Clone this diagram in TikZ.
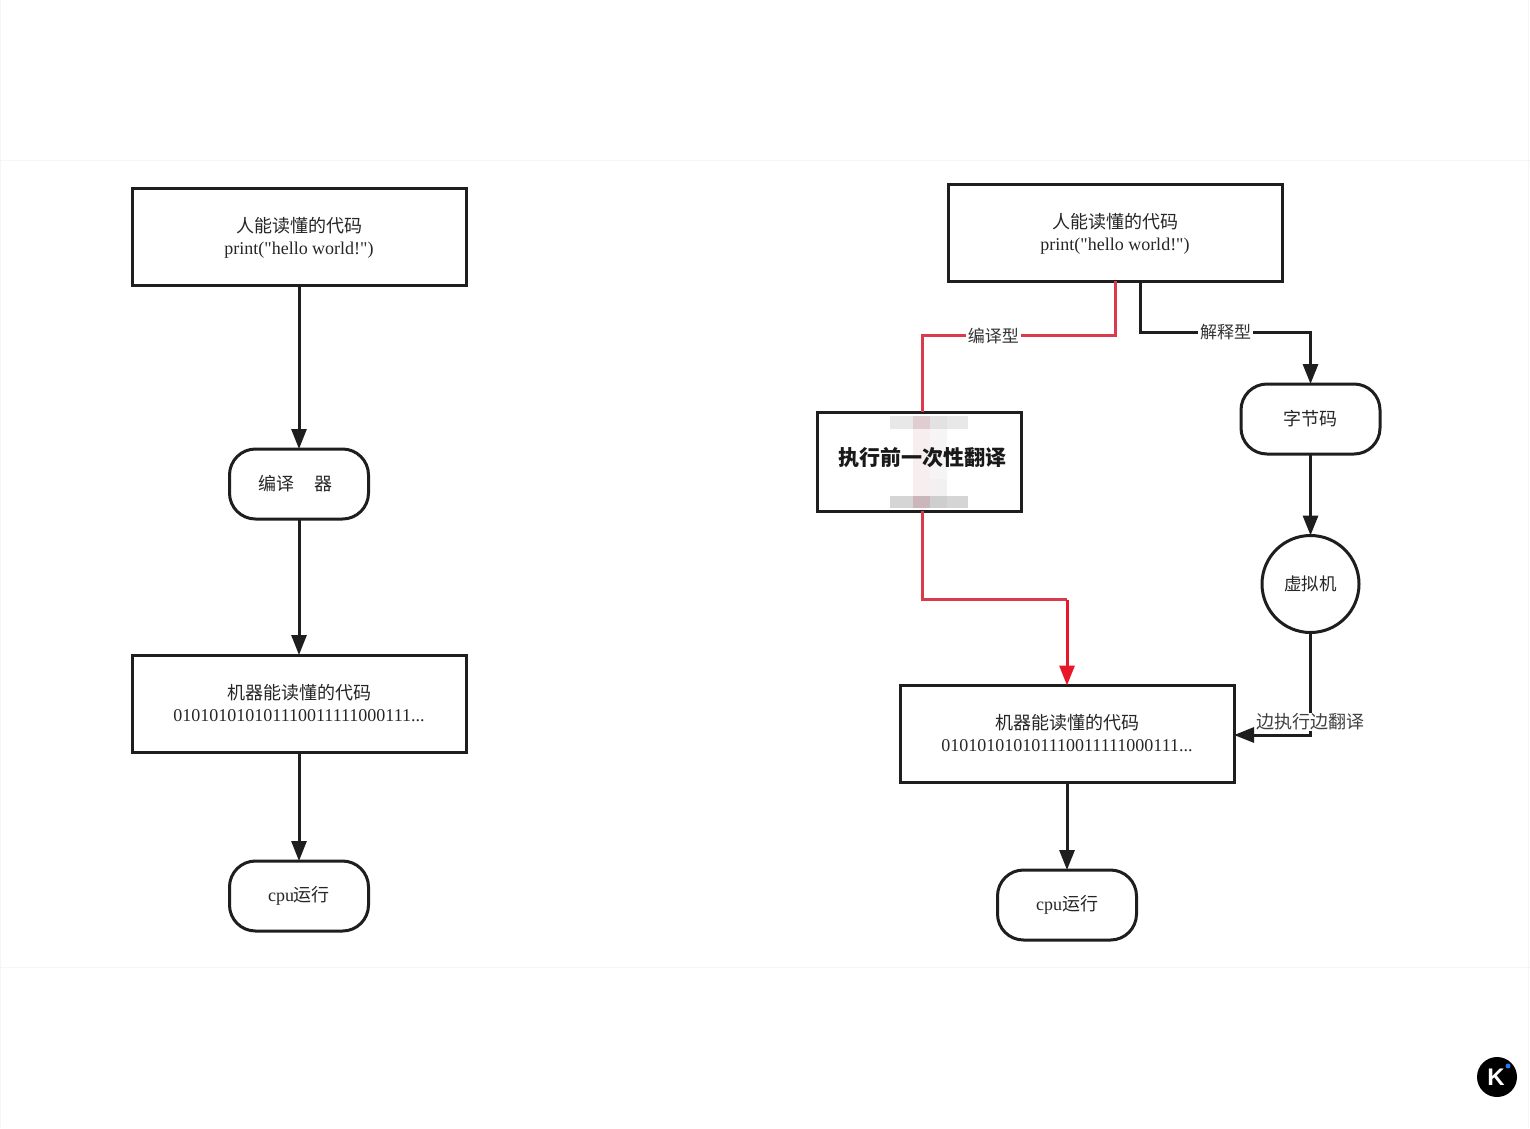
\documentclass[tikz,border=0pt]{standalone}
\usepackage{fontspec}
\setmainfont{Liberation Serif}
\newfontfamily\cjk{Noto Sans CJK SC}
\newfontfamily\plainserif{Liberation Serif}
\newfontfamily\logofont{Liberation Sans}
\usetikzlibrary{arrows.meta,shapes.geometric}
\definecolor{ink}{HTML}{1E1E1E}
\definecolor{redline}{HTML}{D93A4C}
\definecolor{redarrow}{HTML}{E8182A}
\definecolor{pa}{HTML}{E0CDD1}
\definecolor{pb}{HTML}{E2E2E2}
\definecolor{pc}{HTML}{F7EEF0}
\definecolor{pd}{HTML}{F7F4F6}
\definecolor{pe}{HTML}{F2F0F0}
\definecolor{pf}{HTML}{D5D5D5}
\definecolor{pg}{HTML}{CBB7BB}
\definecolor{ph}{HTML}{CECECE}
\definecolor{logoblue}{HTML}{1E7BF0}
\newcommand{\boxline}[1]{\raisebox{-6.5pt}[0pt][0pt]{#1}}
\newcommand{\twolines}[2]{\boxline{\cjk #1}\\\boxline{\plainserif #2}}
\tikzset{
  x=1pt,y=-1pt,
  every node/.style={inner sep=0pt,outer sep=0pt},
  procbox/.style={draw=ink,line width=3pt,fill=white,rectangle,minimum width=334pt,minimum height=97pt,align=center,text=black!85,font=\fontsize{18}{22}\selectfont},
  termbox/.style={draw=ink,line width=3pt,fill=white,rectangle,rounded corners=26pt,minimum width=139pt,minimum height=70pt,align=center,text=black!85,font=\fontsize{18}{22}\selectfont},
  circbox/.style={draw=ink,line width=3pt,fill=white,circle,minimum size=97pt,align=center,text=black!85,font=\fontsize{17.5}{22}\selectfont},
  conn/.style={draw=ink,line width=3pt},
  connarrow/.style={conn,-{Triangle[length=20pt,width=15pt]}},
  redconn/.style={draw=redline,line width=3pt},
  redarrowconn/.style={draw=redarrow,line width=3pt,-{Triangle[length=20pt,width=15pt]}},
  edgelabel/.style={fill=white,inner xsep=2pt,inner ysep=1pt,font=\cjk\fontsize{17}{20}\selectfont,text=black!80},
  faint/.style={draw=black!4,line width=0.8pt},
}
\begin{document}
\begin{tikzpicture}
\useasboundingbox (0,0) rectangle (1530,1128);
\fill[white] (0,0) rectangle (1530,1128);
% faint page edges
\draw[faint] (0,160) -- (1530,160);
\draw[faint] (0,967) -- (1530,967);
\draw[faint] (0.5,0) -- (0.5,1128);
\draw[faint] (1528.5,0) -- (1528.5,1128);

% left flow
\node[procbox] (a1) at (299,236.5) {\twolines{人能读懂的代码}{print("hello world!")}};
\node[termbox] (a2) at (299,484) {\mbox{\cjk 编译\hspace{20pt}器\hspace{8pt}}};
\node[procbox] (a3) at (299,703.5) {\twolines{机器能读懂的代码}{010101010101110011111000111...}};
\node[termbox] (a4) at (299,896) {cpu{\cjk 运行}};
\draw[connarrow] (a1) -- (a2);
\draw[connarrow] (a2) -- (a3);
\draw[connarrow] (a3) -- (a4);

% right flow
\node[procbox] (b1) at (1115,232.5) {\twolines{人能读懂的代码}{print("hello world!")}};
\node[draw=ink,line width=3pt,fill=white,rectangle,minimum width=204pt,minimum height=99pt] (b2) at (919,461.5) {};
\node[termbox] (b3) at (1310.5,419) {{\cjk 字节码}};
\node[circbox] (b4) at (1310.5,584) {{\cjk 虚拟机}};
\node[procbox] (b5) at (1067,734) {\twolines{机器能读懂的代码}{010101010101110011111000111...}};
\node[termbox] (b6) at (1067,905) {cpu{\cjk 运行}};

\coordinate (r0) at (1115,281);
\coordinate (r1) at (1115,335.5);
\coordinate (r2) at (922,335.5);
\coordinate (r3) at (922,412);
\coordinate (r4) at (922,511);
\coordinate (r5) at (922,599.5);
\coordinate (r6) at (1067,599.5);
\coordinate (k0) at (1140.5,281);
\coordinate (k1) at (1140.5,332);
\coordinate (k2) at (1310.5,332);
\coordinate (k3) at (1310.5,735);

\draw[redconn,line join=miter] (r0) -- (r1) -- node[edgelabel,pos=0.63] (lc) {编译型} (r2) -- (r3);
\draw[redconn] (r4) -- (r5) -- (r6);
\draw[redarrowconn] (r6) -- (b5.north -| r6);
\draw[connarrow] (k0) -- (k1) -- node[edgelabel,pos=0.5] (li) {解释型} (k2) -- (b3.north);
\draw[connarrow] (b3) -- (b4);
\draw[connarrow] (b4.south) -- (k3) -- (b5.east |- k3);
\draw[connarrow] (b5) -- (b6);
\node[edgelabel,text=black!75,font=\cjk\fontsize{18}{20}\selectfont] (lt) at (1310.5,722) {边执行边翻译};

% blurred patches inside the bold box
\fill[black!9] (890,416) rectangle (968,429);
\fill[pa] (913,416) rectangle (930,429);
\fill[pb] (930,416) rectangle (947,429);
\fill[pc] (913,429) rectangle (930,496);
\fill[pd] (930,429) rectangle (947,479);
\fill[pe] (930,479) rectangle (947,496);
\fill[pf] (890,496) rectangle (968,508);
\fill[pg] (913,496) rectangle (930,508);
\fill[ph] (930,496) rectangle (947,508);
\node[font=\cjk\bfseries\fontsize{21}{24}\selectfont,text=black!90] (b2t) at (922,458) {执行前一次性翻译};

% logo
\node[circle,fill=black,minimum size=40pt] (logo) at (1497,1077) {};
\node[font=\logofont\bfseries\fontsize{24}{24}\selectfont,text=white] (logok) at (1496,1077) {K};
\node[circle,fill=logoblue,minimum size=5pt] (logod) at (1508,1066) {};
\end{tikzpicture}
\end{document}
